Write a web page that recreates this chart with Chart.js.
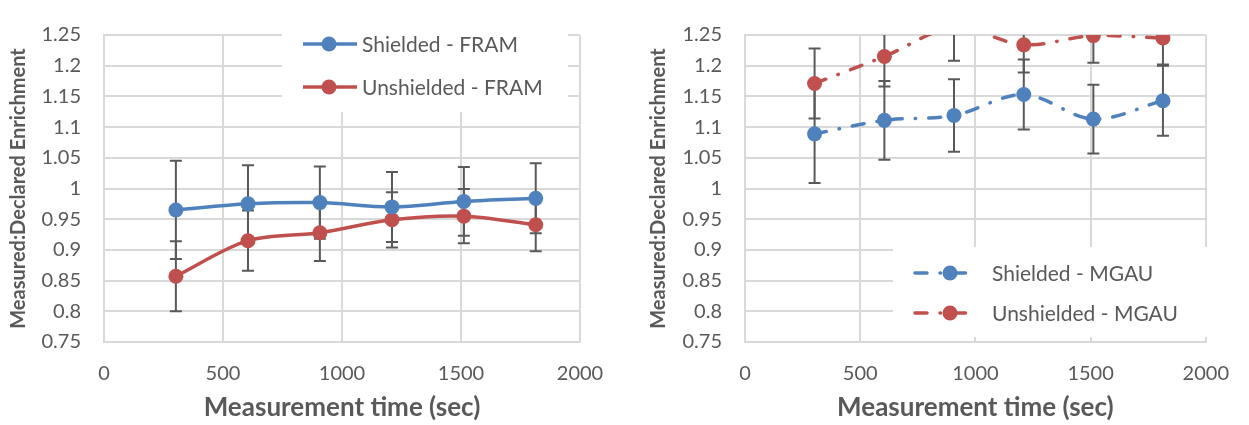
<!DOCTYPE html>
<html>
<head>
<meta charset="utf-8">
<script src="https://cdn.jsdelivr.net/npm/chart.js@4"></script>
<style>
  body { margin: 0; background: #fff; }
  #left { position: absolute; left: 0; top: 0; }
  #right { position: absolute; left: 640px; top: 0; }
</style>
</head>
<body>
<canvas id="left" width="625" height="425"></canvas>
<canvas id="right" width="609" height="425"></canvas>
<script>
// measurement times (sec)
const times = [302, 605, 907, 1210, 1512, 1814];

// FRAM results (left chart)
const framShielded = [0.965, 0.975, 0.977, 0.970, 0.979, 0.984];
const framShieldedErr = [0.080, 0.063, 0.059, 0.057, 0.056, 0.057];
const framUnshielded = [0.857, 0.915, 0.928, 0.949, 0.955, 0.941];
const framUnshieldedErr = [0.057, 0.049, 0.046, 0.045, 0.044, 0.043];

// MGAU results (right chart)
const mgauShielded = [1.089, 1.111, 1.119, 1.153, 1.113, 1.143];
const mgauShieldedErr = [0.080, 0.064, 0.059, 0.057, 0.056, 0.057];
const mgauUnshielded = [1.171, 1.215, 1.262, 1.234, 1.249, 1.245];
const mgauUnshieldedErr = [0.057, 0.049, 0.054, 0.045, 0.044, 0.043];

const BLUE = "#4f81bd";
const RED = "#c0504d";
const GREY = "#595959";
const GRID = "#d9d9d9";

// vertical error bars, drawn under the markers
const errorBars = {
  id: "errorBars",
  beforeDatasetsDraw(chart) {
    const ctx = chart.ctx;
    const a = chart.chartArea;
    const x = chart.scales.x, y = chart.scales.y;
    ctx.save();
    ctx.beginPath();
    ctx.rect(a.left, a.top, a.right - a.left, a.bottom - a.top);
    ctx.clip();
    ctx.strokeStyle = GREY;
    ctx.lineWidth = 2;
    chart.data.datasets.forEach(ds => {
      ds.data.forEach((p, i) => {
        const px = x.getPixelForValue(p.x);
        const top = y.getPixelForValue(p.y + ds.errors[i]);
        const bot = y.getPixelForValue(p.y - ds.errors[i]);
        ctx.beginPath();
        ctx.moveTo(px, top); ctx.lineTo(px, bot);
        ctx.moveTo(px - 6, top); ctx.lineTo(px + 6, top);
        ctx.moveTo(px - 6, bot); ctx.lineTo(px + 6, bot);
        ctx.stroke();
      });
    });
    ctx.restore();
  }
};

// legend in a white box inside the plot
const legendBox = {
  id: "legendBox",
  afterDraw(chart, args, o) {
    const ctx = chart.ctx;
    ctx.save();
    ctx.fillStyle = "#fff";
    ctx.fillRect(o.x, o.y, o.w, o.h);
    chart.data.datasets.forEach((ds, i) => {
      const cy = o.y + o.rows[i];
      ctx.strokeStyle = ds.borderColor;
      ctx.lineWidth = ds.borderWidth;
      ctx.lineCap = ds.borderCapStyle || "butt";
      ctx.setLineDash(ds.borderDash || []);
      ctx.beginPath();
      ctx.moveTo(o.x + o.lineFrom, cy);
      ctx.lineTo(o.x + o.lineTo, cy);
      ctx.stroke();
      ctx.setLineDash([]);
      ctx.fillStyle = ds.borderColor;
      ctx.beginPath();
      ctx.arc(o.x + o.marker, cy, ds.pointRadius, 0, Math.PI * 2);
      ctx.fill();
      ctx.fillStyle = GREY;
      ctx.font = "21px Lato";
      ctx.textBaseline = "middle";
      ctx.fillText(ds.label, o.x + o.text, cy + 1);
    });
    ctx.restore();
  }
};

function pts(ys) {
  return ys.map((v, i) => ({ x: times[i], y: v }));
}

function series(label, ys, errs, color, dash) {
  return {
    label: label,
    data: pts(ys),
    errors: errs,
    borderColor: color,
    backgroundColor: color,
    borderWidth: 3.5,
    borderDash: dash,
    borderCapStyle: dash.length ? "round" : "butt",
    pointRadius: 7.5,
    pointHoverRadius: 7.5,
    pointBorderWidth: 0,
    pointBackgroundColor: color,
    tension: 0.33,
    clip: 0
  };
}

function options(padRight, yWidth, legend) {
  return {
    responsive: false,
    animation: false,
    layout: { padding: { top: 15, right: padRight, left: 0, bottom: 0 } },
    scales: {
      x: {
        type: "linear",
        min: 0, max: 2000,
        ticks: { stepSize: 500, color: GREY, font: { size: 20 }, padding: 20, callback: v => String(v) },
        grid: { color: GRID, lineWidth: 2, drawTicks: false },
        border: { color: GRID, width: 2 },
        title: {
          display: true, text: "Measurement time (sec)", color: GREY,
          font: { size: 26, weight: "bold", lineHeight: 1.2 }, padding: { top: 0, bottom: 2 }
        },
        afterFit: s => { s.height = 83; }
      },
      y: {
        min: 0.75, max: 1.25,
        ticks: {
          stepSize: 0.05, color: GREY, font: { size: 20 }, padding: 23,
          callback: v => String(Math.round(v * 100) / 100)
        },
        grid: { color: GRID, lineWidth: 2, drawTicks: false },
        border: { color: GRID, width: 2 },
        title: {
          display: true, text: "Measured:Declared Enrichment", color: GREY,
          font: { size: 20, weight: "bold", lineHeight: 1.2 }, padding: { top: 7, bottom: 0 }
        },
        afterFit: s => { s.width = yWidth; }
      }
    },
    plugins: {
      legend: { display: false },
      tooltip: { enabled: false },
      legendBox: legend
    }
  };
}

Chart.defaults.font.family = "Lato";

Promise.all([
  document.fonts.load("20px Lato"),
  document.fonts.load("bold 20px Lato")
]).finally(() => {
  new Chart(document.getElementById("left"), {
    type: "line",
    data: {
      datasets: [
        series("Shielded - FRAM", framShielded, framShieldedErr, BLUE, []),
        series("Unshielded - FRAM", framUnshielded, framUnshieldedErr, RED, [])
      ]
    },
    options: options(45, 104, { x: 282, y: 23, w: 286, h: 89, lineFrom: 21, lineTo: 75, marker: 47, text: 80, rows: [21, 64] }),
    plugins: [errorBars, legendBox]
  });

  new Chart(document.getElementById("right"), {
    type: "line",
    data: {
      datasets: [
        series("Shielded - MGAU", mgauShielded, mgauShieldedErr, BLUE, [12, 13, 0.5, 13]),
        series("Unshielded - MGAU", mgauUnshielded, mgauUnshieldedErr, RED, [12, 13, 0.5, 13])
      ]
    },
    options: options(34, 105, { x: 253, y: 247, w: 322, h: 90, lineFrom: 22, lineTo: 82, marker: 57, text: 99, rows: [26, 66] }),
    plugins: [errorBars, legendBox]
  });
});
</script>
</body>
</html>
